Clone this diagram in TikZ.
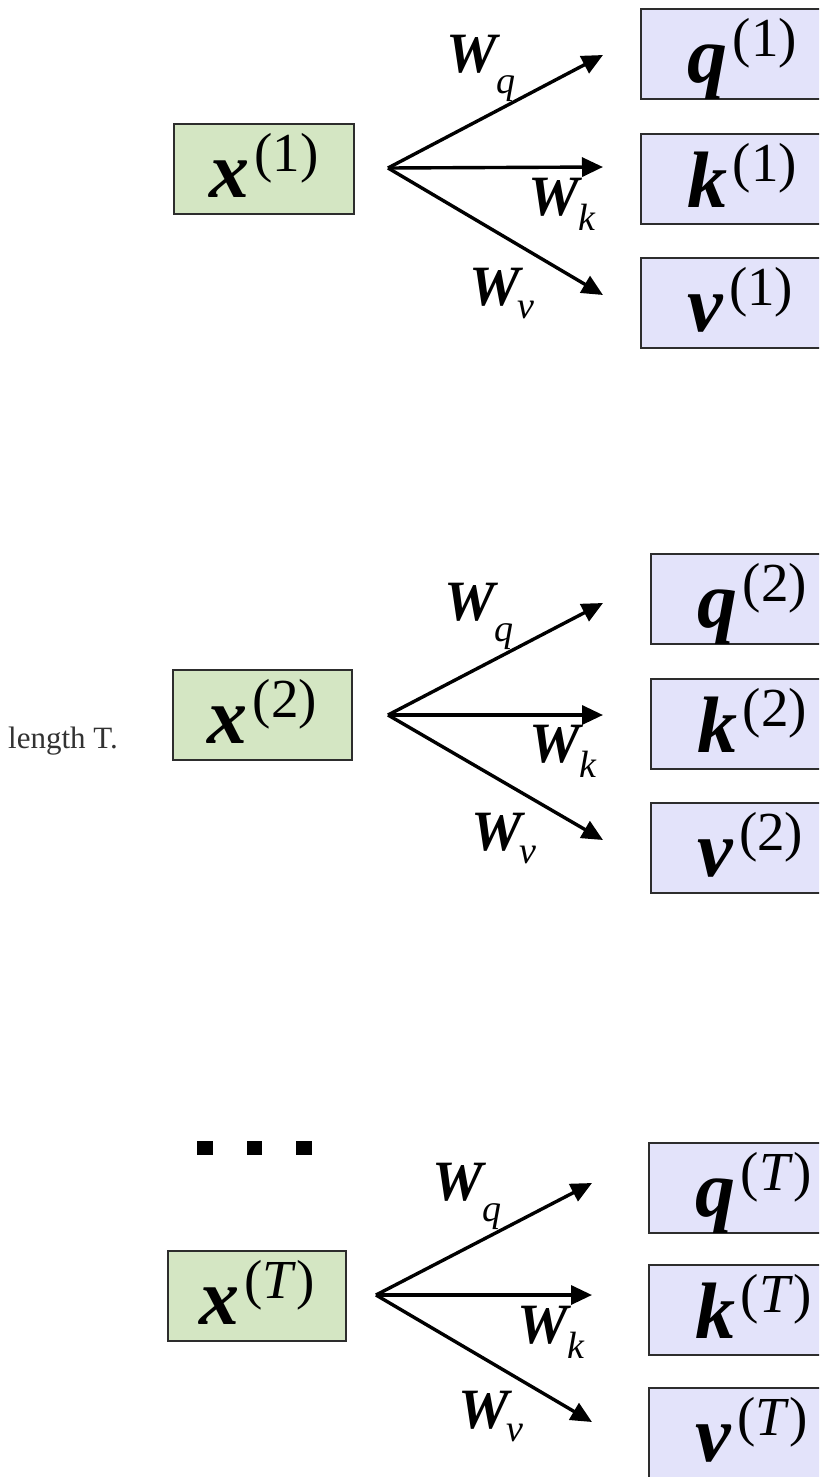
\documentclass[tikz,border=0pt]{standalone}
\usepackage{fontspec}
\setmainfont{Liberation Serif}
\usetikzlibrary{arrows.meta}
\definecolor{xgreen}{RGB}{212,230,195}
\definecolor{qpurple}{RGB}{227,227,250}
\definecolor{edgegray}{RGB}{45,45,45}
\definecolor{txtgray}{RGB}{50,50,50}
% vector symbol with superscript
\newcommand\vsym[2]{{\fontsize{80}{80}\selectfont\textbf{\textit{#1}}}\kern5pt\raisebox{26pt}{\fontsize{55}{55}\selectfont(#2)}}
% weight label: #1 subscript, #2 kern, #3 drop
\newcommand\wlab[3]{{\fontsize{57}{57}\selectfont\textbf{\textit{W}}}\kern#2\raisebox{-#3}{\fontsize{38}{38}\selectfont\textit{#1}}}
\begin{document}
\begin{tikzpicture}[x=1pt,y=-1pt,
  inbox/.style={draw=edgegray, line width=1.8pt, fill=xgreen, anchor=north west,
    minimum height=90pt, inner sep=0pt, text height=74pt, text depth=16pt},
  outbox/.style={draw=edgegray, line width=1.8pt, fill=qpurple, anchor=north west,
    inner xsep=47pt, inner ysep=0pt, text height=74pt, text depth=16pt},
  arr/.style={line width=3.4pt, line join=round, -{Triangle[length=21pt,width=19pt]}},
  wl/.style={anchor=base west, inner sep=0pt},
  dotsq/.style={fill=black}]
\clip (0,0) rectangle (819,1477);
\fill[white] (0,0) rectangle (819,1477);

% ---------- block 1 ----------
\node[inbox, minimum width=180pt] (x1) at (173,123) {\vsym{x}{1}};
\node[outbox] (q1) at (640,8) {\vsym{q}{1}};
\node[outbox] (k1) at (640,133) {\vsym{k}{1}};
\node[outbox] (v1) at (640,257) {\vsym{v}{1}};
\coordinate (o1) at (388,168);
\coordinate (tq1) at (603,55);
\coordinate (tk1) at (603,167);
\coordinate (tv1) at (603,295);
\draw[arr] (o1) -- (tq1);
\draw[arr] (o1) -- (tk1);
\draw[arr] (o1) -- (tv1);
\node[wl] (lq1) at (446,73) {\wlab{q}{-4pt}{21pt}};
\node[wl] (lk1) at (528,215) {\wlab{k}{-4pt}{15pt}};
\node[wl] (lv1) at (469,305) {\wlab{v}{-6pt}{13pt}};

% ---------- block 2 ----------
\node[anchor=base west, inner sep=0pt, text=txtgray, font=\fontsize{31}{31}\selectfont] (len) at (8,748) {length T.};
\node[inbox, minimum width=179pt] (x2) at (172,669) {\vsym{x}{2}};
\node[outbox] (q2) at (650,553) {\vsym{q}{2}};
\node[outbox] (k2) at (650,678) {\vsym{k}{2}};
\node[outbox] (v2) at (650,802) {\vsym{v}{2}};
\coordinate (o2) at (388,715);
\coordinate (tq2) at (603,603);
\coordinate (tk2) at (603,715);
\coordinate (tv2) at (603,840);
\draw[arr] (o2) -- (tq2);
\draw[arr] (o2) -- (tk2);
\draw[arr] (o2) -- (tv2);
\node[wl] (lq2) at (444,620) {\wlab{q}{-4pt}{21pt}};
\node[wl] (lk2) at (529,762) {\wlab{k}{-4pt}{15pt}};
\node[wl] (lv2) at (471,850) {\wlab{v}{-6pt}{13pt}};

% ---------- block 3 ----------
\fill[dotsq] (197,1141) rectangle (213,1155);
\fill[dotsq] (247,1141) rectangle (262,1155);
\fill[dotsq] (296,1141) rectangle (312,1155);
\node[inbox, minimum width=178pt] (x3) at (167,1250) {\vsym{x}{\textit{T}}};
\node[outbox] (q3) at (648,1142) {\vsym{q}{\textit{T}}};
\node[outbox] (k3) at (648,1264) {\vsym{k}{\textit{T}}};
\node[outbox] (v3) at (648,1387) {\vsym{v}{\textit{T}}};
\coordinate (o3) at (376,1295);
\coordinate (tq3) at (592,1183);
\coordinate (tk3) at (592,1295);
\coordinate (tv3) at (592,1422);
\draw[arr] (o3) -- (tq3);
\draw[arr] (o3) -- (tk3);
\draw[arr] (o3) -- (tv3);
\node[wl] (lq3) at (432,1200) {\wlab{q}{-4pt}{21pt}};
\node[wl] (lk3) at (517,1343) {\wlab{k}{-4pt}{15pt}};
\node[wl] (lv3) at (458,1428) {\wlab{v}{-6pt}{13pt}};
\end{tikzpicture}
\end{document}
